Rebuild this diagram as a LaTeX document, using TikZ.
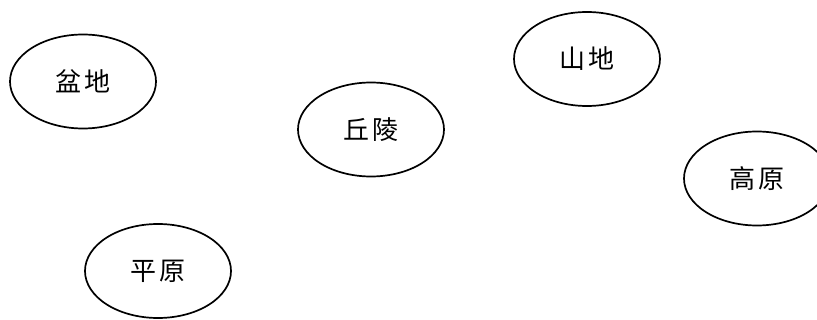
\documentclass[tikz,border=0pt]{standalone}
\usepackage{fontspec}
\newfontfamily\cjk{Noto Sans CJK SC}
\usetikzlibrary{shapes.geometric}
\tikzset{
  landform/.style={ellipse, draw=black, line width=1.7pt, minimum width=146pt, minimum height=94pt, inner sep=0pt,
    font=\cjk\fontsize{26pt}{26pt}\selectfont},
}
\newcommand{\gapch}{\hspace{4pt}}
\begin{document}
\begin{tikzpicture}[x=1pt,y=-1pt]
\useasboundingbox (0,0) rectangle (817,320);
\node[landform] (pendi) at (83,81.5) {盆\gapch 地};
\node[landform] (qiuling) at (371,129.5) {丘\gapch 陵};
\node[landform] (shandi) at (587,59) {山\gapch 地};
\node[landform] (gaoyuan) at (757,178.5) {高\gapch 原};
\node[landform] (pingyuan) at (158,271) {平\gapch 原};
\end{tikzpicture}
\end{document}
